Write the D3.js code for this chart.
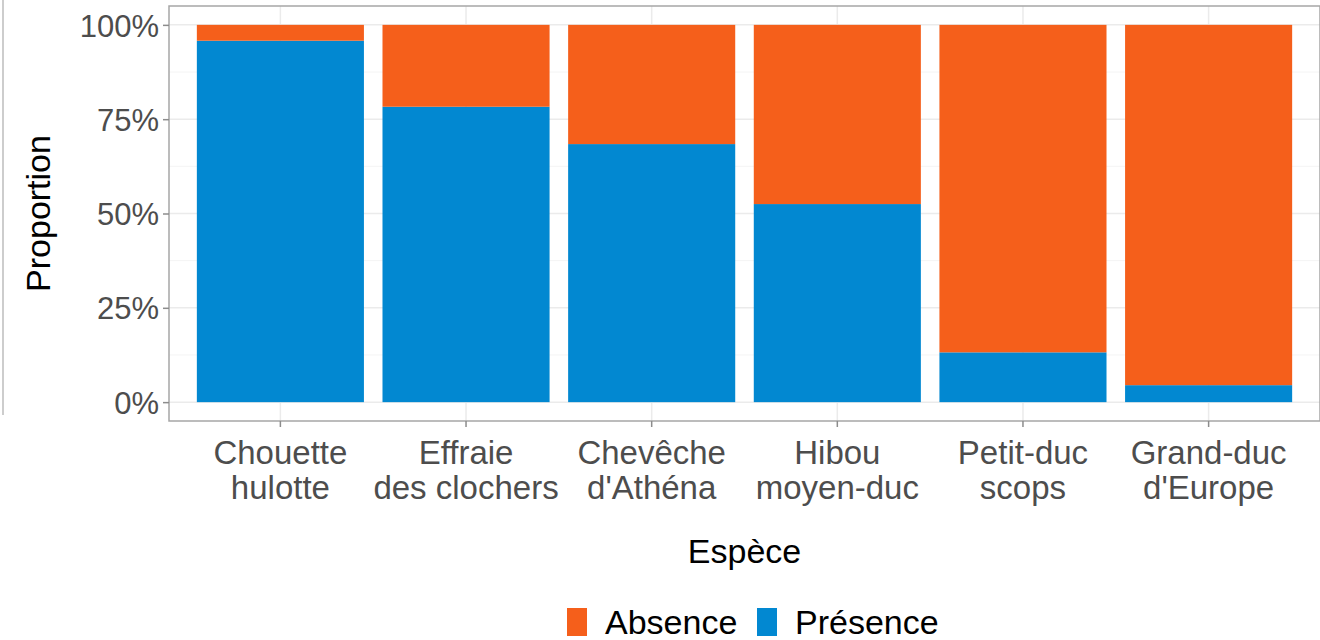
<!DOCTYPE html>
<html>
<head>
<meta charset="utf-8">
<script src="https://cdn.jsdelivr.net/npm/d3@7"></script>
<style>
  body { margin: 0; background: #fff; }
  svg text { font-family: "Liberation Sans", Arial, Helvetica, sans-serif; }
</style>
</head>
<body>
<div id="chart"></div>
<script>
// species (two-line labels) and share of nests where the species was present
var especes = ["Chouette hulotte", "Effraie des clochers", "Chevêche d'Athéna", "Hibou moyen-duc", "Petit-duc scops", "Grand-duc d'Europe"];
var lignes = [["Chouette", "hulotte"], ["Effraie", "des clochers"], ["Chevêche", "d'Athéna"], ["Hibou", "moyen-duc"], ["Petit-duc", "scops"], ["Grand-duc", "d'Europe"]];
var presence = [0.958, 0.783, 0.684, 0.525, 0.132, 0.045];
var absence = presence.map(function (p) { return 1 - p; });
var yTicks = [0, 0.25, 0.5, 0.75, 1];
var groupes = ["Absence", "Présence"];
var couleurs = ["#f55f1b", "#0288d1"];

var W = 1320, H = 640;
var panel = { left: 169, right: 1320, top: 6, bottom: 421 };

var svg = d3.select("#chart").append("svg")
    .attr("width", W).attr("height", H);

// bit of an outer frame visible on the left
svg.append("line")
    .attr("x1", 3).attr("x2", 3).attr("y1", 0).attr("y2", 415)
    .attr("stroke", "#bdbdbd").attr("stroke-width", 1.5);

// scales (ggplot style: 0.6 unit expansion, bar width 0.9)
var pw = panel.right - panel.left;
var x = d3.scaleBand()
    .domain(especes)
    .range([panel.left, panel.right])
    .paddingInner(0.1).paddingOuter(0.15);
var ext = (panel.bottom - panel.top) / 1.1 * 0.05;
var y = d3.scaleLinear().domain([0, 1]).range([panel.bottom - ext, panel.top + ext]);

// grid
var g = svg.append("g");
var minor = d3.range(0.125, 1, 0.25);
g.selectAll(".minor").data(minor).enter().append("line")
    .attr("x1", panel.left).attr("x2", panel.right)
    .attr("y1", function (d) { return y(d); }).attr("y2", function (d) { return y(d); })
    .attr("stroke", "#f4f4f4").attr("stroke-width", 1);
g.selectAll(".major").data(yTicks).enter().append("line")
    .attr("x1", panel.left).attr("x2", panel.right)
    .attr("y1", function (d) { return y(d); }).attr("y2", function (d) { return y(d); })
    .attr("stroke", "#ebebeb").attr("stroke-width", 1.5);
g.selectAll(".vmajor").data(especes).enter().append("line")
    .attr("x1", function (d) { return x(d) + x.bandwidth() / 2; })
    .attr("x2", function (d) { return x(d) + x.bandwidth() / 2; })
    .attr("y1", panel.top).attr("y2", panel.bottom)
    .attr("stroke", "#ebebeb").attr("stroke-width", 1.5);

// stacked bars
var table = especes.map(function (e, i) { return { espece: e, Absence: absence[i], "Présence": presence[i] }; });
var series = d3.stack().keys(["Présence", "Absence"])(table);
var couleur = d3.scaleOrdinal().domain(groupes).range(couleurs);

svg.selectAll(".serie").data(series).enter().append("g")
    .attr("fill", function (d) { return couleur(d.key); })
    .selectAll("rect").data(function (d) { return d; }).enter().append("rect")
    .attr("x", function (d) { return x(d.data.espece); })
    .attr("width", x.bandwidth())
    .attr("y", function (d) { return y(d[1]); })
    .attr("height", function (d) { return y(d[0]) - y(d[1]); });

// panel border
svg.append("rect")
    .attr("x", panel.left).attr("y", panel.top)
    .attr("width", pw).attr("height", panel.bottom - panel.top)
    .attr("fill", "none").attr("stroke", "#a6a6a6").attr("stroke-width", 1.5);

// y axis
var yAxis = svg.append("g")
    .attr("transform", "translate(" + panel.left + ",0)")
    .call(d3.axisLeft(y).tickValues(yTicks).tickFormat(d3.format(".0%")).tickSize(6).tickPadding(4));
yAxis.select(".domain").remove();
yAxis.selectAll(".tick line").attr("stroke", "#8c8c8c").attr("stroke-width", 1.5);
yAxis.selectAll(".tick text").attr("fill", "#4d4d4d").style("font-size", "31px").attr("dy", "0.36em");

// x axis
var xAxis = svg.append("g")
    .attr("transform", "translate(0," + panel.bottom + ")")
    .call(d3.axisBottom(x).tickSize(6).tickFormat(""));
xAxis.select(".domain").remove();
xAxis.selectAll(".tick line").attr("stroke", "#8c8c8c").attr("stroke-width", 1.5);
xAxis.selectAll(".tick").each(function (d, i) {
    var t = d3.select(this).append("text")
        .attr("fill", "#4d4d4d").attr("text-anchor", "middle")
        .style("font-size", "33px");
    lignes[i].forEach(function (l, j) {
        t.append("tspan").attr("x", 0).attr("y", 43 + j * 35).text(l);
    });
});

// titles
svg.append("text")
    .attr("x", (panel.left + panel.right) / 2).attr("y", 563)
    .attr("text-anchor", "middle").style("font-size", "34px").attr("fill", "#000")
    .text("Espèce");
svg.append("text")
    .attr("transform", "translate(50," + (panel.top + panel.bottom) / 2 + ") rotate(-90)")
    .attr("text-anchor", "middle").style("font-size", "34px").attr("fill", "#000")
    .text("Proportion");

// legend
var leg = svg.append("g");
var legX = [567, 757];
groupes.forEach(function (gr, i) {
    leg.append("rect")
        .attr("x", legX[i]).attr("y", 608).attr("width", 20).attr("height", 28)
        .attr("fill", couleur(gr));
    leg.append("text")
        .attr("x", legX[i] + 38).attr("y", 634)
        .style("font-size", "34px").attr("fill", "#000")
        .text(gr);
});
</script>
</body>
</html>
